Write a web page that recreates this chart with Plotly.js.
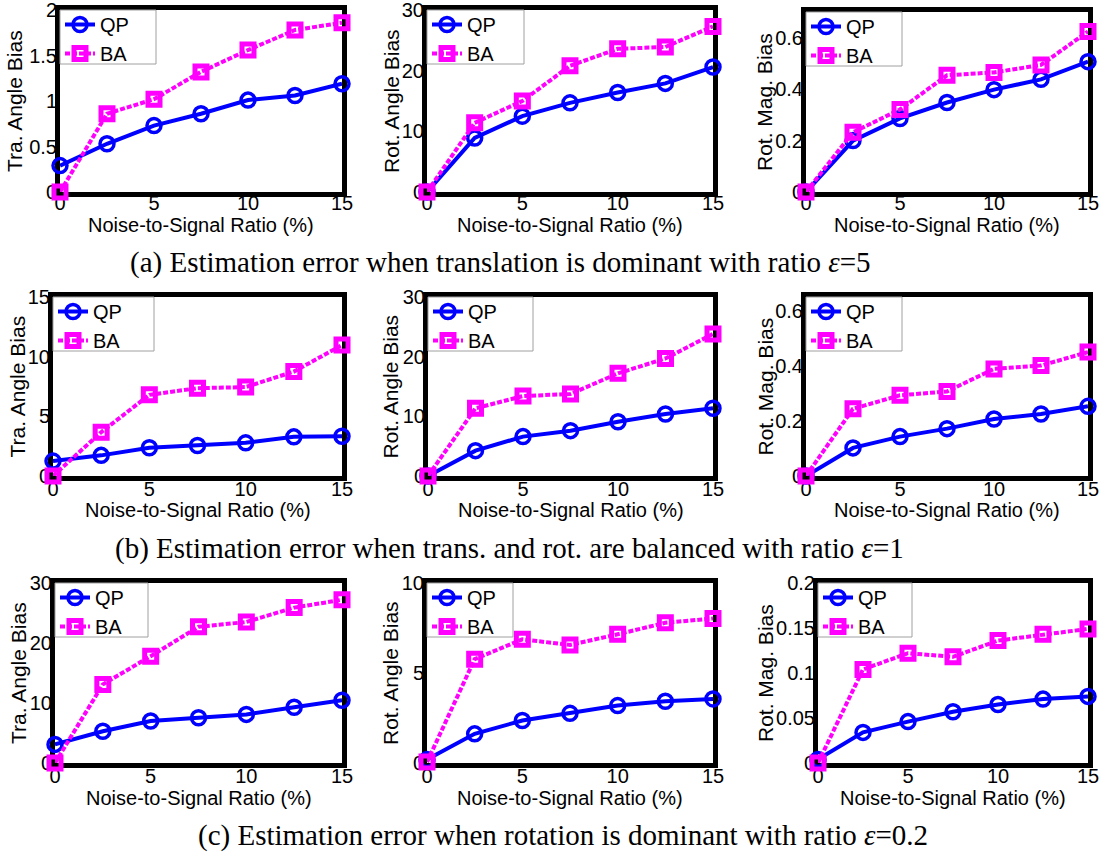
<!DOCTYPE html>
<html>
<head>
<meta charset="utf-8">
<script src="https://cdn.plot.ly/plotly-3.0.1.min.js"></script>
<style>html,body{margin:0;padding:0;background:#fff;}#chart{width:1102px;height:852px;}</style>
</head>
<body>
<div id="chart"></div>
<script>
// ---- data ----
const noiseRatio = [0, 2.5, 5, 7.5, 10, 12.5, 15];
const xTickVals = [0, 5, 10, 15];
const seriesNames = ['QP', 'BA'];

// (a) translation dominant, eps = 5
const qpTraAngleEps5 = [0.29, 0.53, 0.73, 0.86, 1.01, 1.06, 1.19];
const baTraAngleEps5 = [0.0, 0.86, 1.02, 1.32, 1.56, 1.78, 1.86];
const qpRotAngleEps5 = [0.0, 8.9, 12.5, 14.7, 16.4, 17.9, 20.6];
const baRotAngleEps5 = [0.0, 11.4, 15.0, 20.8, 23.6, 23.9, 27.3];
const qpRotMagEps5 = [0.0, 0.200, 0.286, 0.348, 0.398, 0.438, 0.507];
const baRotMagEps5 = [0.0, 0.232, 0.321, 0.454, 0.465, 0.494, 0.624];

// (b) balanced, eps = 1
const qpTraAngleEps1 = [1.25, 1.73, 2.37, 2.56, 2.78, 3.28, 3.33];
const baTraAngleEps1 = [0.0, 3.67, 6.8, 7.36, 7.45, 8.75, 10.97];
const qpRotAngleEps1 = [0.0, 4.25, 6.6, 7.6, 9.1, 10.4, 11.35];
const baRotAngleEps1 = [0.0, 11.35, 13.4, 13.75, 17.2, 19.7, 23.8];
const qpRotMagEps1 = [0.0, 0.102, 0.143, 0.172, 0.207, 0.225, 0.253];
const baRotMagEps1 = [0.0, 0.244, 0.293, 0.307, 0.389, 0.401, 0.450];

// (c) rotation dominant, eps = 0.2
const qpTraAngleEps02 = [3.1, 5.3, 7.0, 7.55, 8.1, 9.3, 10.45];
const baTraAngleEps02 = [0.0, 13.1, 17.8, 22.7, 23.5, 25.9, 27.2];
const qpRotAngleEps02 = [0.19, 1.62, 2.36, 2.76, 3.19, 3.43, 3.56];
const baRotAngleEps02 = [0.05, 5.77, 6.87, 6.56, 7.15, 7.79, 8.03];
const qpRotMagEps02 = [0.004, 0.034, 0.046, 0.057, 0.065, 0.071, 0.074];
const baRotMagEps02 = [0.0, 0.104, 0.122, 0.118, 0.136, 0.143, 0.149];

const yTitles = ['Tra. Angle Bias', 'Rot. Angle Bias', 'Rot. Mag. Bias'];
const xTitle = 'Noise-to-Signal Ratio (%)';
const captions = [
  '(a) Estimation error when translation is dominant with ratio <i>ε</i>=5',
  '(b) Estimation error when trans. and rot. are balanced with ratio <i>ε</i>=1',
  '(c) Estimation error when rotation is dominant with ratio <i>ε</i>=0.2'
];

const panelData = [
  [qpTraAngleEps5, baTraAngleEps5], [qpRotAngleEps5, baRotAngleEps5], [qpRotMagEps5, baRotMagEps5],
  [qpTraAngleEps1, baTraAngleEps1], [qpRotAngleEps1, baRotAngleEps1], [qpRotMagEps1, baRotMagEps1],
  [qpTraAngleEps02, baTraAngleEps02], [qpRotAngleEps02, baRotAngleEps02], [qpRotMagEps02, baRotMagEps02]
];
const yRanges = [[0, 2], [0, 30], [0, 0.7], [0, 15], [0, 30], [0, 0.65], [0, 30], [0, 10], [0, 0.2]];
const yDticks = [0.5, 10, 0.2, 5, 10, 0.2, 10, 5, 0.05];

// ---- layout geometry (pixels) ----
const W = 1102, H = 852;
const boxes = [ // [left, right, top, bottom]
  [60, 342, 10, 192], [427, 713, 10, 192], [806, 1088, 12, 192],
  [53, 342, 297, 476], [428, 713, 297, 476], [806, 1088, 297, 476],
  [55, 342, 583, 763], [427, 713, 583, 763], [818, 1088, 583, 763]
];
const legendBoxW = [96, 97, 96, 101, 105, 96, 93, 86, 94];
const legendBoxH = 54;
const yTitleX = [15, 392, 765, 17, 390, 765, 18, 390, 765];
const xTitleY = [225, 225, 225, 510, 510, 510, 798, 798, 798];
const xLabelShift = [-11, -11, -11, -9, -9, -9, -9, -9, -9];
const captionPos = [[500, 262], [509, 548], [563, 835]];

const FONT = 'Liberation Sans, Arial, Helvetica, sans-serif';
const traces = [];
const layout = {
  width: W, height: H,
  margin: {l: 0, r: 0, t: 0, b: 0},
  paper_bgcolor: '#ffffff', plot_bgcolor: '#ffffff',
  showlegend: true,
  annotations: [],
  shapes: []
};

for (let i = 0; i < 9; i++) {
  const n = i === 0 ? '' : String(i + 1);
  const [L, R, T, B] = boxes[i];
  const legendKey = 'legend' + n;
  const [qp, ba] = panelData[i];
  traces.push({
    x: noiseRatio, y: qp, name: seriesNames[0], type: 'scatter', mode: 'lines+markers',
    xaxis: 'x' + n, yaxis: 'y' + n, legend: legendKey, cliponaxis: false,
    line: {color: '#0000ff', width: 4},
    marker: {symbol: 'circle-open', size: 14, color: '#0000ff', line: {color: '#0000ff', width: 3.5}}
  });
  traces.push({
    x: noiseRatio, y: ba, name: seriesNames[1], type: 'scatter', mode: 'lines+markers',
    xaxis: 'x' + n, yaxis: 'y' + n, legend: legendKey, cliponaxis: false,
    line: {color: '#ff00ff', width: 4, dash: '5px,2px'},
    marker: {symbol: 'square-open', size: 12, color: '#ff00ff', line: {color: '#ff00ff', width: 5}}
  });
  const common = {
    showline: true, linecolor: '#000', linewidth: 5, mirror: true,
    showgrid: false, zeroline: false, ticks: '', layer: 'below traces',
    ticklabeloverflow: 'allow',
    tickfont: {family: FONT, size: 20, color: '#000'}, fixedrange: true
  };
  layout['xaxis' + n] = Object.assign({}, common, {
    domain: [L / W, R / W], anchor: 'y' + n, range: [0, 15],
    tickmode: 'array', tickvals: xTickVals, ticklabelstandoff: xLabelShift[i]
  });
  layout['yaxis' + n] = Object.assign({}, common, {
    domain: [1 - B / H, 1 - T / H], anchor: 'x' + n, range: yRanges[i],
    dtick: yDticks[i], tick0: 0, ticklabelstandoff: -6
  });
  // legend frame
  layout.shapes.push({
    type: 'rect', xref: 'paper', yref: 'paper', layer: 'above',
    x0: L / W, x1: (L + legendBoxW[i]) / W, y0: 1 - (T + legendBoxH) / H, y1: 1 - T / H,
    fillcolor: '#ffffff', line: {color: '#a0a0a0', width: 1}
  });
  layout[legendKey] = {
    x: L / W, y: 1 - (T - 5) / H, xanchor: 'left', yanchor: 'top',
    xref: 'paper', yref: 'paper',
    bgcolor: 'rgba(0,0,0,0)', borderwidth: 0,
    font: {family: FONT, size: 20, color: '#000'},
    itemwidth: 30, tracegroupgap: 0
  };
  layout.annotations.push({
    text: xTitle, xref: 'paper', yref: 'paper', x: (L + R) / 2 / W, y: 1 - xTitleY[i] / H,
    xanchor: 'center', yanchor: 'middle', showarrow: false,
    font: {family: FONT, size: 20, color: '#000'}
  });
  layout.annotations.push({
    text: yTitles[i % 3], xref: 'paper', yref: 'paper', x: yTitleX[i] / W, y: 1 - (T + B) / 2 / H,
    xanchor: 'center', yanchor: 'middle', textangle: -90, showarrow: false,
    font: {family: FONT, size: 21, color: '#000'}
  });
}
captions.forEach((c, k) => {
  layout.annotations.push({
    text: c, xref: 'paper', yref: 'paper', x: captionPos[k][0] / W, y: 1 - captionPos[k][1] / H,
    xanchor: 'center', yanchor: 'middle', showarrow: false,
    font: {family: 'Liberation Serif, Times New Roman, serif', size: 29, color: '#000'}
  });
});

Plotly.newPlot('chart', traces, layout, {displayModeBar: false, staticPlot: true});
</script>
</body>
</html>
